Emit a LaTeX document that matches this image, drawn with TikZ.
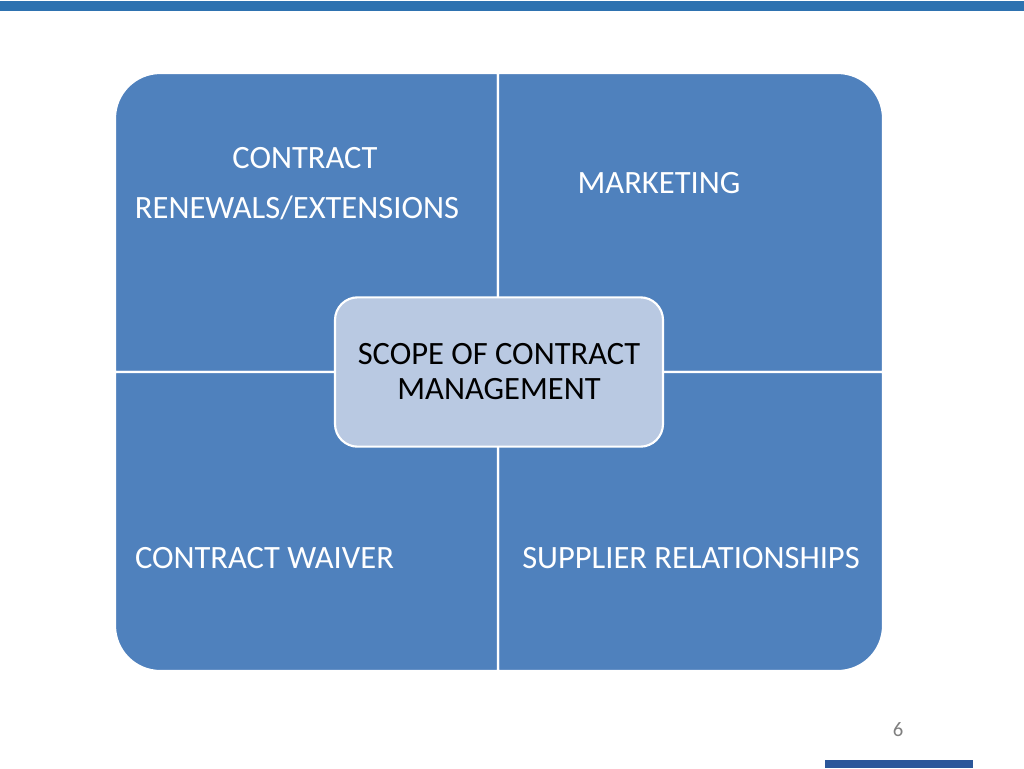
\documentclass[tikz,border=0pt]{standalone}
\usepackage{fontspec}
\setmainfont{Carlito}
\usepackage{xcolor}
\usepackage{tikz}
\usetikzlibrary{positioning}

\definecolor{quadblue}{HTML}{4F81BD}
\definecolor{coreblue}{HTML}{B9C9E2}
\definecolor{barblue}{HTML}{2E72B0}
\definecolor{footblue}{HTML}{2B579A}
\definecolor{pagegray}{HTML}{7F7F7F}

\begin{document}
\begin{tikzpicture}[x=0.75pt,y=-0.75pt,every node/.style={outer sep=0pt}]
\tikzstyle{quad}=[fill=quadblue,draw=white,line width=1.6pt]
\tikzstyle{label}=[text=white,font=\fontsize{24.4}{37.5}\selectfont,inner sep=0pt]
\tikzstyle{core}=[fill=coreblue,draw=white,line width=1.6pt,rounded corners=17pt,
minimum width=246pt,minimum height=112pt,align=center,
font=\fontsize{24.4}{26.3}\selectfont]
\useasboundingbox (0,0) rectangle (1024,768);
% page bars
\fill[barblue] (0,0.5) rectangle (1024,10.5);
\fill[footblue] (825,760) rectangle (973,768);
% four quadrants
\draw[quad] (498,372) -- (115,372) [rounded corners=34pt]-- (115,73) [sharp corners]-- (498,73) -- cycle;
\draw[quad] (498,372) -- (498,73) [rounded corners=34pt]-- (883,73) [sharp corners]-- (883,372) -- cycle;
\draw[quad] (498,372) -- (883,372) [rounded corners=34pt]-- (883,671) [sharp corners]-- (498,671) -- cycle;
\draw[quad] (498,372) -- (498,671) [rounded corners=34pt]-- (115,671) [sharp corners]-- (115,372) -- cycle;
% quadrant texts
\node (renewa) [label] at (305,158) {CONTRACT};
\node (renewb) [label] at (297,208) {RENEWALS/EXTENSIONS};
\node (market) [label] at (659,183) {MARKETING};
\node (waiver) [label,anchor=west] at (135,558) {CONTRACT WAIVER};
\node (supply) [label] at (691,558) {SUPPLIER RELATIONSHIPS};
% centre
\node (scope) [core] at (499,372) {SCOPE OF CONTRACT\\MANAGEMENT};
\node (page) [text=pagegray,font=\fontsize{15.5}{18}\selectfont] at (898,730) {6};
\end{tikzpicture}
\end{document}
